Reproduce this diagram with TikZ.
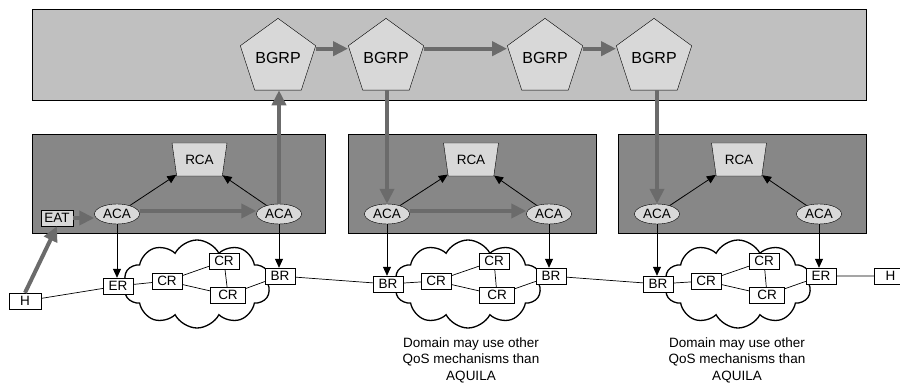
\documentclass[tikz,border=0pt]{standalone}
\usepackage{fontspec}
\setmainfont{Liberation Sans}
\usetikzlibrary{arrows.meta,positioning,calc,shapes.geometric,shapes.symbols}
\definecolor{Outer}{HTML}{C0C0C0}
\definecolor{Domain}{HTML}{878787}
\definecolor{Agent}{HTML}{D8D8D8}
\definecolor{Flow}{HTML}{6B6B6B}
\tikzset{
 area/.style={draw=black, line width=0.8pt},
 bgrp/.style={draw, regular polygon, regular polygon sides=5, minimum size=65pt, inner sep=0pt, fill=Agent, font=\fontsize{16}{18}\selectfont},
 rca/.style={draw, trapezium, shape border rotate=180, trapezium left angle=73, trapezium right angle=73, trapezium stretches=true, minimum width=55pt, minimum height=33pt, inner sep=0pt, fill=Agent},
 aca/.style={draw, ellipse, minimum width=45pt, minimum height=20pt, inner sep=0pt, fill=Agent},
 router/.style={draw, fill=white, minimum width=30pt, minimum height=16pt, inner sep=1pt},
 cloudy/.style={draw, cloud, cloud puffs=10, cloud puff arc=125, aspect=1.67, minimum width=147pt, minimum height=88pt, fill=white, line width=1.3pt},
 arrow/.style={-{Triangle[length=15pt,width=14pt]}, line width=4pt, draw=Flow},
 thinarrow/.style={-{Triangle[length=9pt,width=8pt]}, line width=0.8pt},
 link/.style={line width=0.7pt},
 note/.style={align=center}
}
\begin{document}
\begin{tikzpicture}[x=1pt,y=-1pt,font=\fontsize{13.5}{16.5}\selectfont]
\useasboundingbox (0,0) rectangle (900,385);
\draw[area, fill=Outer] (32,9) rectangle (866,100);
\draw[area, fill=Domain] (32,134) rectangle (325,233);
\draw[area, fill=Domain] (348,134) rectangle (596,233);
\draw[area, fill=Domain] (618,134) rectangle (866,233);

\node[cloudy] (cl1) at (197,284) {};
\node[cloudy] (cl2) at (468,284) {};
\node[cloudy] (cl3) at (738,284) {};

\node[bgrp] (b1) at (278,58) {BGRP};
\node[bgrp] (b2) at (386,58) {BGRP};
\node[bgrp] (b3) at (545,58) {BGRP};
\node[bgrp] (b4) at (654,58) {BGRP};

\node[rca] (r1) at (199.5,159.5) {RCA};
\node[rca] (r2) at (471,159.5) {RCA};
\node[rca] (r3) at (739,159.5) {RCA};

\node[aca] (a1l) at (117,214) {ACA};
\node[aca] (a1r) at (279,214) {ACA};
\node[aca] (a2l) at (387,214) {ACA};
\node[aca] (a2r) at (549,214) {ACA};
\node[aca] (a3l) at (657,214) {ACA};
\node[aca] (a3r) at (819,214) {ACA};
\node[router, fill=Agent, minimum width=32pt] (eat) at (57,218) {EAT};

\node[router, minimum width=32pt] (h1) at (25,301) {H};
\node[router] (er1) at (118,286) {ER};
\node[router] (c1a) at (167,281) {CR};
\node[router] (c1b) at (224,261) {CR};
\node[router, minimum width=35pt] (c1c) at (228,295) {CR};
\node[router] (br1) at (280,276) {BR};

\node[router] (br2l) at (388,284) {BR};
\node[router] (c2a) at (436,281) {CR};
\node[router] (c2b) at (494,261) {CR};
\node[router, minimum width=35pt] (c2c) at (497,295) {CR};
\node[router] (br2r) at (551,276) {BR};

\node[router] (br3) at (658,284) {BR};
\node[router] (c3a) at (706,281) {CR};
\node[router] (c3b) at (764,261) {CR};
\node[router, minimum width=35pt] (c3c) at (767,295) {CR};
\node[router] (er3) at (821,276) {ER};
\node[router, minimum width=32pt, right=38pt of er3] (h3) {H};

\node[note] (n2) at (471,360) {Domain may use other\\QoS mechanisms than\\AQUILA};
\node[note] (n3) at (737,360) {Domain may use other\\QoS mechanisms than\\AQUILA};

\draw[link] (h1) -- (er1) -- (c1a) -- (c1b) -- (c1c) -- (br1) -- (br2l) -- (c2a) -- (c2b) -- (c2c) -- (br2r) -- (br3) -- (c3a) -- (c3b) -- (c3c) -- (er3) -- (h3);
\draw[link] (c1a) -- (c1c);
\draw[link] (c2a) -- (c2c);
\draw[link] (c3a) -- (c3c);

\draw[arrow] ([yshift=-3pt]b1.corner 5) -- ([yshift=-3pt]b2.corner 2);
\draw[arrow] ([yshift=-3pt]b2.corner 5) -- ([yshift=-3pt]b3.corner 2);
\draw[arrow] ([yshift=-3pt]b3.corner 5) -- ([yshift=-3pt]b4.corner 2);
\draw[arrow] (a1r.north) -- (a1r.north |- b1.south);
\draw[arrow] (a2l.north |- b2.south) -- (a2l.north);
\draw[arrow] (a3l.north |- b4.south) -- (a3l.north);
\draw[arrow] ([yshift=3pt]a1l.east) -- ([yshift=3pt]a1r.west);
\draw[arrow] ([yshift=3pt]a2l.east) -- ([yshift=3pt]a2r.west);
\draw[arrow] (eat.east) -- (a1l.west |- eat.east);
\draw[arrow] (h1.north) -- (eat.south);

\draw[thinarrow] (a1l) -- (r1);
\draw[thinarrow] (a1r) -- (r1);
\draw[thinarrow] (a2l) -- (r2);
\draw[thinarrow] (a2r) -- (r2);
\draw[thinarrow] (a3l) -- (r3);
\draw[thinarrow] (a3r) -- (r3);
\draw[thinarrow] (a1l.south) -- (a1l.south |- er1.north);
\draw[thinarrow] (a1r.south) -- (a1r.south |- br1.north);
\draw[thinarrow] (a2l.south) -- (a2l.south |- br2l.north);
\draw[thinarrow] (a2r.south) -- (a2r.south |- br2r.north);
\draw[thinarrow] (a3l.south) -- (a3l.south |- br3.north);
\draw[thinarrow] (a3r.south) -- (a3r.south |- er3.north);
\end{tikzpicture}
\end{document}
